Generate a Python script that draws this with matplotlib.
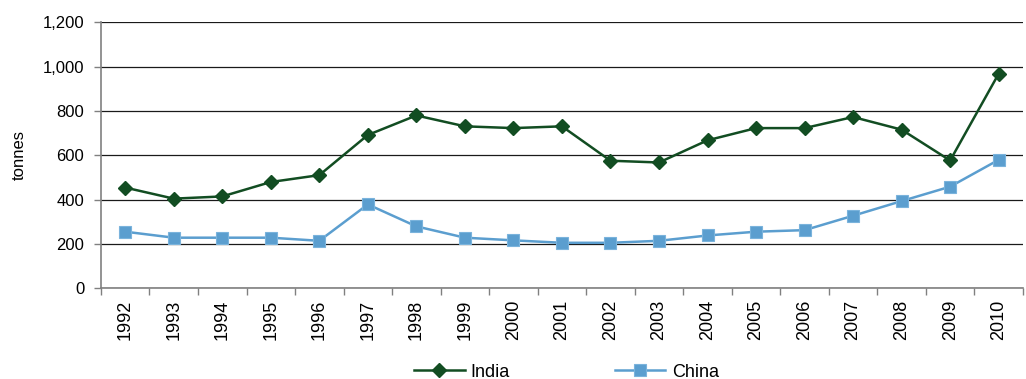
import matplotlib
matplotlib.use("Agg")
import matplotlib.pyplot as plt
from matplotlib.ticker import FuncFormatter, FixedLocator

plt.rcParams['font.family'] = ['Liberation Sans', 'DejaVu Sans']

years = [str(y) for y in range(1992, 2011)]
india = [455, 405, 415, 480, 511, 692, 780, 731, 723, 731,
         576, 568, 668, 723, 723, 773, 716, 577, 968]
china = [256, 229, 229, 229, 215, 379, 280, 229, 217, 206,
         206, 215, 239, 256, 263, 328, 394, 459, 580]

india_color = '#124d22'
china_color = '#5b9ecf'

fig = plt.figure(figsize=(10.26, 3.79), dpi=100)
ax = fig.add_axes([0.0984, 0.2388, 0.8986, 0.7024])

x = list(range(len(years)))
ax.plot(x, india, color=india_color, lw=1.8, marker='D', ms=7.5,
        mec=india_color, mfc=india_color, label='India', zorder=4)
ax.plot(x, china, color=china_color, lw=1.8, marker='s', ms=8,
        mec='#7ab3dc', mew=0.8, mfc=china_color, label='China', zorder=3)

ax.set_xlim(-0.5, len(years) - 0.5)
ax.set_ylim(0, 1200)
ax.set_yticks(range(0, 1201, 200))
ax.yaxis.set_major_formatter(FuncFormatter(lambda v, p: f"{int(v):,}"))
ax.grid(axis='y', color='#1a1a1a', lw=0.9)
ax.set_axisbelow(True)

# category labels centred, ticks on category boundaries
ax.set_xticks(x)
ax.set_xticklabels(years, rotation=90, fontsize=13)
ax.tick_params(axis='x', which='major', length=0, pad=8)
ax.xaxis.set_minor_locator(FixedLocator([i - 0.5 for i in range(len(years) + 1)]))
ax.tick_params(axis='x', which='minor', length=5, width=1, color='#808080', direction='out')
ax.tick_params(axis='y', length=5, width=1, color='#808080', direction='out',
               labelsize=12, pad=7)

for s in ['top', 'right']:
    ax.spines[s].set_visible(False)
for s in ['left', 'bottom']:
    ax.spines[s].set_color('#808080')
    ax.spines[s].set_linewidth(1.2)

ax.set_ylabel('tonnes', fontsize=12)
ax.yaxis.set_label_coords(-0.081, 0.5)

fig.legend(loc='center', bbox_to_anchor=(0.552, 0.018), ncol=2, frameon=False,
           fontsize=13, handlelength=2.8, columnspacing=5.8, handletextpad=0.35,
           borderaxespad=0)

fig.savefig('out.png', dpi=100)
